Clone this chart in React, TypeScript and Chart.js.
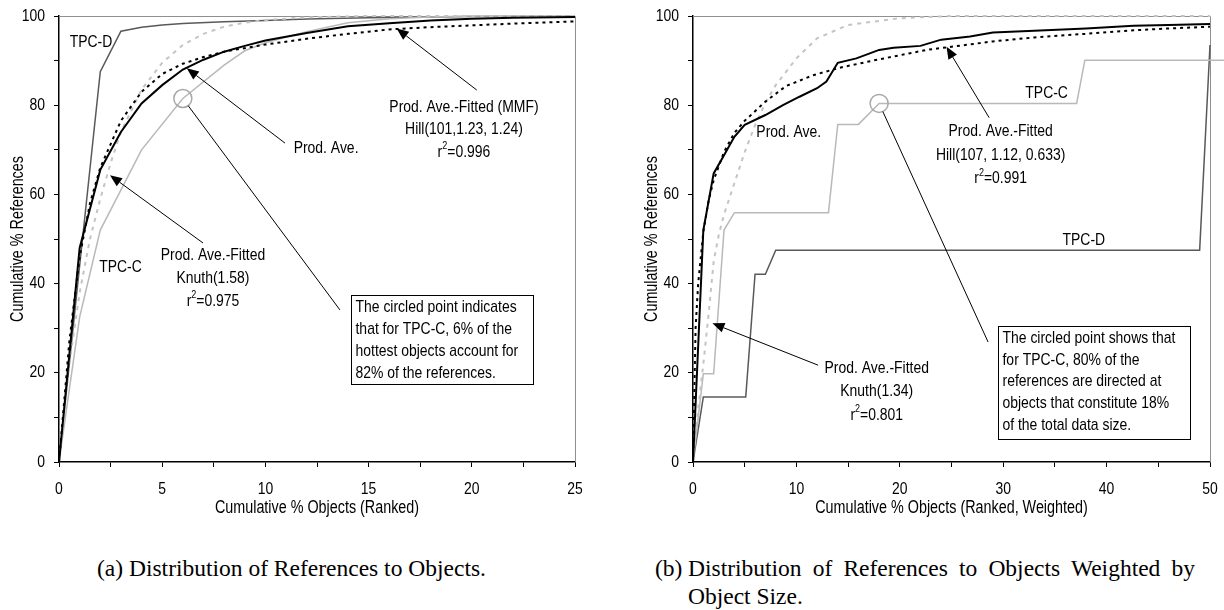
import React, { useEffect, useRef } from "react";
import { Chart, registerables } from "chart.js";

Chart.register(...registerables);

// Narrow sans text is drawn with Liberation Sans squeezed horizontally.
const SANS = '"Liberation Sans", Arial, Helvetica, sans-serif';
const NARROW = 0.82;
const SERIF = '"Liberation Serif", "Times New Roman", Times, serif';

// ---------- shared axis ticks ----------
const yTickMarks = [0, 10, 20, 30, 40, 50, 60, 70, 80, 90, 100];
const yTickLabels = [0, 20, 40, 60, 80, 100];

// ---------- panel (a): references vs. ranked objects ----------
const aTickMarks = [0, 2.5, 5, 7.5, 10, 12.5, 15, 17.5, 20, 22.5, 25];
const aTickLabels = [0, 5, 10, 15, 20, 25];

const aProdAveX = [0, 1, 2, 3, 4, 5, 6, 7, 8, 9, 10, 12, 14, 16, 18, 20, 22, 25];
const aProdAveY = [0, 48, 65.5, 74, 80.4, 84.5, 88, 90.2, 92, 93.3, 94.5, 96.2, 97.7, 98.4, 99, 99.4, 99.6, 99.8];

const aHillX = [0, 0.5, 1, 1.5, 2, 3, 4, 5, 6, 7, 8, 10, 12, 14, 16, 18, 20, 22, 25];
const aHillY = [0, 27, 46, 58, 66, 76.5, 83, 87, 89.3, 90.8, 92, 93.6, 94.9, 96, 97, 97.5, 97.9, 98.3, 98.8];

const aKnuthX = [0, 0.5, 1, 1.5, 2, 2.5, 3, 4, 5, 6, 7, 8, 9, 10, 12, 15, 20, 25];
const aKnuthY = [0, 22, 38, 50, 59, 67, 74, 83.5, 89.5, 93.5, 96, 97.6, 98.5, 99.1, 99.7, 100, 100, 100];

const aTpcCX = [0, 1, 2, 4, 6, 8, 9, 10, 12, 14, 16, 18, 20, 25];
const aTpcCY = [0, 32.5, 52, 70, 81.5, 89, 92.2, 94, 96.5, 98.5, 99.4, 99.8, 100, 100];

const aTpcDX = [0, 1, 2, 3, 4, 5, 6, 8, 10, 12, 15, 20, 25];
const aTpcDY = [0, 44, 87.5, 96.6, 97.5, 98, 98.3, 98.7, 99, 99.3, 99.6, 99.9, 100];

// ---------- panel (b): references vs. size-weighted ranked objects ----------
const bTickMarks = [0, 5, 10, 15, 20, 25, 30, 35, 40, 45, 50];
const bTickLabels = [0, 10, 20, 30, 40, 50];

const bProdAveX = [0, 1, 2, 3, 4, 5, 7, 8.7, 10.3, 12, 12.9, 14, 15.8, 18, 19.4, 22, 24, 26.8, 29, 33, 38, 42.6, 46, 50, 51.5];
const bProdAveY = [0, 52, 64.7, 68.8, 72.9, 75.6, 77.8, 80, 81.9, 83.8, 85.3, 89.5, 90.5, 92.4, 92.9, 93.3, 94.7, 95.4, 96.3, 96.7, 97.2, 97.8, 98, 98.2, 98.3];

const bHillX = [0, 0.25, 0.5, 1, 1.5, 2, 3, 4, 5, 7, 9, 11.6, 14, 17.4, 20, 22.6, 25, 29, 33, 38, 42.6, 46, 50];
const bHillY = [0, 30, 40, 51.6, 58.5, 63.2, 69.5, 73.8, 76.5, 80.8, 84.3, 86.7, 88.3, 90, 91.2, 92.4, 93.1, 94.3, 95.2, 96, 96.8, 97.2, 97.6];

const bKnuthX = [0, 0.5, 1, 1.5, 2, 2.5, 3, 4, 5, 6, 7, 8, 10, 12, 15, 20, 25, 50];
const bKnuthY = [0, 12, 22, 33, 45, 51, 55.5, 62.5, 69.5, 75.5, 80.5, 84.5, 90.5, 95, 98, 99.5, 100, 100];

const bTpcCX = [0, 1, 2, 3, 4, 13.1, 14, 16, 18, 37.1, 37.9, 52];
const bTpcCY = [0, 19.8, 19.8, 52, 55.9, 55.9, 75.7, 75.7, 80.4, 80.4, 90.1, 90.1];

const bTpcDX = [0, 1, 5.1, 6, 7, 8, 49, 50, 51.5];
const bTpcDY = [0, 14.6, 14.6, 42.1, 42.1, 47.5, 47.5, 93.5, 94.5];

// ---------- styles ----------
type Series = {
  label: string;
  x: number[];
  y: number[];
  color: string;
  width: number;
  dash?: number[];
  overflow?: number;
};

type Note =
  | { kind: "text"; x: number; y: number; lines: string[]; step?: number }
  | { kind: "arrow"; from: [number, number]; to: [number, number] }
  | { kind: "ring"; x: number; y: number; r: number; to: [number, number] }
  | { kind: "box"; x0: number; y0: number; x1: number; y1: number; lines: string[]; step: number };

const BLACK = "#000000";
const LIGHT = "#b9b9b9";
const DARK = "#595959";

function seriesSet(
  prodX: number[], prodY: number[],
  hillX: number[], hillY: number[],
  knuthX: number[], knuthY: number[],
  cX: number[], cY: number[],
  dX: number[], dY: number[],
  overflow: number
): Series[] {
  return [
    { label: "Prod. Ave.", x: prodX, y: prodY, color: BLACK, width: 2, overflow },
    { label: "Prod. Ave.-Fitted (Hill)", x: hillX, y: hillY, color: BLACK, width: 2, dash: [3, 4] },
    { label: "Prod. Ave.-Fitted (Knuth)", x: knuthX, y: knuthY, color: "#c4c4c4", width: 2, dash: [4, 5] },
    { label: "TPC-C", x: cX, y: cY, color: LIGHT, width: 1.5, overflow },
    { label: "TPC-D", x: dX, y: dY, color: DARK, width: 1.5, overflow },
  ];
}

const aSeries = seriesSet(aProdAveX, aProdAveY, aHillX, aHillY, aKnuthX, aKnuthY, aTpcCX, aTpcCY, aTpcDX, aTpcDY, 0);
const bSeries = seriesSet(bProdAveX, bProdAveY, bHillX, bHillY, bKnuthX, bKnuthY, bTpcCX, bTpcCY, bTpcDX, bTpcDY, 14);

const aNotes: Note[] = [
  { kind: "text", x: 1.55, y: 94.2, lines: ["TPC-D"] },
  { kind: "text", x: 2.98, y: 43.7, lines: ["TPC-C"] },
  { kind: "text", x: 12.94, y: 70.4, lines: ["Prod. Ave."] },
  { kind: "arrow", from: [10.95, 71.5], to: [6.19, 88.3] },
  { kind: "text", x: 7.46, y: 46.4, lines: ["Prod. Ave.-Fitted", "Knuth(1.58)", "r²=0.975"], step: 23 },
  { kind: "arrow", from: [6.98, 49.1], to: [2.47, 64.3] },
  { kind: "text", x: 19.62, y: 79.6, lines: ["Prod. Ave.-Fitted (MMF)", "Hill(101,1.23, 1.24)", "r²=0.996"], step: 22.5 },
  { kind: "arrow", from: [20.24, 83.4], to: [16.36, 97.2] },
  { kind: "ring", x: 6, y: 81.5, r: 9, to: [13.61, 34.1] },
  {
    kind: "box", x0: 14.13, y0: 37.4, x1: 22.95, y1: 17.4, step: 22,
    lines: ["The circled point indicates", "that for TPC-C, 6% of the", "hottest objects account for", "82% of the references."],
  },
];

const bNotes: Note[] = [
  { kind: "text", x: 9.26, y: 74.0, lines: ["Prod. Ave."] },
  { kind: "text", x: 34.2, y: 82.7, lines: ["TPC-C"] },
  { kind: "text", x: 37.8, y: 49.8, lines: ["TPC-D"] },
  { kind: "text", x: 29.75, y: 74.1, lines: ["Prod. Ave.-Fitted", "Hill(107, 1.12, 0.633)", "r²=0.991"], step: 23.5 },
  { kind: "arrow", from: [28.64, 77.2], to: [24.52, 93.1] },
  { kind: "text", x: 17.77, y: 21.0, lines: ["Prod. Ave.-Fitted", "Knuth(1.34)", "r²=0.801"], step: 23.3 },
  { kind: "arrow", from: [12.1, 21.7], to: [1.88, 31.1] },
  { kind: "ring", x: 18, y: 80.4, r: 9, to: [28.54, 26.9] },
  {
    kind: "box", x0: 29.45, y0: 30.5, x1: 48.06, y1: 5.1, step: 21.6,
    lines: ["The circled point shows that", "for TPC-C, 80% of the", "references are directed at", "objects that constitute 18%", "of the total data size."],
  },
];

// ---------- drawing helpers ----------
const NOTE_SIZE = 17;
const TICK_SIZE = 17;
const TITLE_SIZE = 17.5;

function narrowWidth(ctx: CanvasRenderingContext2D, text: string, size: number) {
  ctx.font = `${size}px ${SANS}`;
  return ctx.measureText(text).width * NARROW;
}

// Draws condensed text with its left edge at x, vertically centred on y.
function narrowText(ctx: CanvasRenderingContext2D, text: string, x: number, y: number, size: number) {
  ctx.save();
  ctx.font = `${size}px ${SANS}`;
  ctx.textAlign = "left";
  ctx.textBaseline = "middle";
  ctx.fillStyle = "#000";
  ctx.translate(x, y);
  ctx.scale(NARROW, 1);
  ctx.fillText(text, 0, 0);
  ctx.restore();
}

function drawRichLine(ctx: CanvasRenderingContext2D, text: string, x: number, y: number, align: "center" | "left" | "right", size = NOTE_SIZE) {
  const smallSize = Math.round(size * 0.62);
  const parts: [string, boolean][] = text.startsWith("r²")
    ? [["r", false], ["2", true], [text.slice(2), false]]
    : [[text, false]];
  const widths = parts.map(([t, sup]) => narrowWidth(ctx, t, sup ? smallSize : size));
  const total = widths.reduce((s, w) => s + w, 0);
  let cx = align === "center" ? x - total / 2 : align === "right" ? x - total : x;
  parts.forEach(([t, sup], i) => {
    narrowText(ctx, t, cx, sup ? y - 6 : y, sup ? smallSize : size);
    cx += widths[i];
  });
}

function drawArrow(ctx: CanvasRenderingContext2D, x1: number, y1: number, x2: number, y2: number) {
  const ang = Math.atan2(y2 - y1, x2 - x1);
  const len = 12;
  const half = 5;
  const bx = x2 - len * Math.cos(ang);
  const by = y2 - len * Math.sin(ang);
  ctx.strokeStyle = "#000";
  ctx.lineWidth = 1;
  ctx.beginPath();
  ctx.moveTo(x1, y1);
  ctx.lineTo(bx, by);
  ctx.stroke();
  ctx.fillStyle = "#000";
  ctx.beginPath();
  ctx.moveTo(x2, y2);
  ctx.lineTo(bx + half * Math.sin(ang), by - half * Math.cos(ang));
  ctx.lineTo(bx - half * Math.sin(ang), by + half * Math.cos(ang));
  ctx.closePath();
  ctx.fill();
}

type PanelProps = {
  series: Series[];
  notes: Note[];
  xMax: number;
  xTickMarks: number[];
  xTickLabels: number[];
  xTitle: string;
  yTitle: string;
  axisWidth: number;
  padRight: number;
  left: number;
};

const CANVAS_W = 612;
const CANVAS_H = 525;
const PLOT_TOP = 16;
const PLOT_BOTTOM = 462;

function Panel(props: PanelProps) {
  const ref = useRef<HTMLCanvasElement | null>(null);

  useEffect(() => {
    const canvas = ref.current;
    if (!canvas) return;
    const { series, notes, xMax, xTickMarks, xTickLabels, xTitle, yTitle, axisWidth, padRight } = props;

    const frame = {
      id: "frame",
      beforeDatasetsDraw(chart: any) {
        const { ctx, chartArea: a } = chart;
        ctx.save();
        ctx.strokeStyle = "#8f8f8f";
        ctx.lineWidth = 1;
        ctx.beginPath();
        ctx.moveTo(a.left, a.top + 0.5);
        ctx.lineTo(a.right + 0.5, a.top + 0.5);
        ctx.lineTo(a.right + 0.5, a.bottom);
        ctx.stroke();
        ctx.restore();
      },
      afterDraw(chart: any) {
        const { ctx, chartArea: a } = chart;
        const sx = chart.scales.x;
        const sy = chart.scales.y;
        ctx.save();
        // tick labels
        xTickLabels.forEach((v) => drawRichLine(ctx, String(v), sx.getPixelForValue(v), a.bottom + 27, "center", TICK_SIZE));
        yTickLabels.forEach((v) => drawRichLine(ctx, String(v), a.left - 14, sy.getPixelForValue(v), "right", TICK_SIZE));
        // axis titles
        drawRichLine(ctx, xTitle, (a.left + a.right) / 2, a.bottom + 46, "center", TITLE_SIZE);
        ctx.translate(a.left - 41, (a.top + a.bottom) / 2);
        ctx.rotate(-Math.PI / 2);
        drawRichLine(ctx, yTitle, 0, 0, "center", TITLE_SIZE);
        ctx.restore();
      },
    };

    const annotate = {
      id: "annotate",
      afterDatasetsDraw(chart: any) {
        const { ctx } = chart;
        const sx = chart.scales.x;
        const sy = chart.scales.y;
        const px = (v: number) => sx.getPixelForValue(v);
        const py = (v: number) => sy.getPixelForValue(v);
        ctx.save();
        notes.forEach((n) => {
          if (n.kind === "text") {
            const step = n.step ?? 22;
            n.lines.forEach((line, i) => drawRichLine(ctx, line, px(n.x), py(n.y) + i * step, "center"));
          } else if (n.kind === "arrow") {
            drawArrow(ctx, px(n.from[0]), py(n.from[1]), px(n.to[0]), py(n.to[1]));
          } else if (n.kind === "ring") {
            const cx = px(n.x);
            const cy = py(n.y);
            ctx.strokeStyle = "#a8a8a8";
            ctx.lineWidth = 1.5;
            ctx.beginPath();
            ctx.arc(cx, cy, n.r, 0, Math.PI * 2);
            ctx.stroke();
            const tx = px(n.to[0]);
            const ty = py(n.to[1]);
            const ang = Math.atan2(ty - cy, tx - cx);
            ctx.strokeStyle = "#000";
            ctx.lineWidth = 1;
            ctx.beginPath();
            ctx.moveTo(cx + n.r * Math.cos(ang), cy + n.r * Math.sin(ang));
            ctx.lineTo(tx, ty);
            ctx.stroke();
          } else if (n.kind === "box") {
            const x0 = Math.round(px(n.x0)) + 0.5;
            const y0 = Math.round(py(n.y0)) + 0.5;
            const x1 = Math.round(px(n.x1)) + 0.5;
            const y1 = Math.round(py(n.y1)) + 0.5;
            ctx.fillStyle = "#fff";
            ctx.fillRect(x0, y0, x1 - x0, y1 - y0);
            ctx.strokeStyle = "#000";
            ctx.lineWidth = 1;
            ctx.strokeRect(x0, y0, x1 - x0, y1 - y0);
            n.lines.forEach((line, i) => drawRichLine(ctx, line, x0 + 4, y0 + 12 + i * n.step, "left"));
          }
        });
        ctx.restore();
      },
    };

    const chart = new Chart(canvas, {
      type: "line",
      data: {
        datasets: series.map((s) => ({
          label: s.label,
          data: s.x.map((x, i) => ({ x, y: s.y[i] })),
          borderColor: s.color,
          borderWidth: s.width,
          borderDash: s.dash ?? [],
          pointRadius: 0,
          tension: 0,
          fill: false,
          clip: { left: 0, top: 2, right: s.overflow ?? 0, bottom: 0 } as any,
        })),
      },
      options: {
        responsive: false,
        animation: false,
        events: [],
        layout: { padding: { top: PLOT_TOP, right: padRight, left: 0, bottom: 0 } },
        plugins: { legend: { display: false }, tooltip: { enabled: false }, title: { display: false } },
        scales: {
          x: {
            type: "linear",
            min: 0,
            max: xMax,
            afterFit: (s: any) => {
              s.height = CANVAS_H - PLOT_BOTTOM;
            },
            afterBuildTicks: (s: any) => {
              s.ticks = xTickMarks.map((v) => ({ value: v }));
            },
            ticks: { display: false, autoSkip: false, maxRotation: 0 },
            grid: { drawOnChartArea: false, drawTicks: true, tickLength: 5, color: "#000", lineWidth: 1 },
            border: { display: true, color: "#000", width: 1.5 },
          },
          y: {
            type: "linear",
            min: 0,
            max: 100,
            afterFit: (s: any) => {
              s.width = axisWidth;
            },
            afterBuildTicks: (s: any) => {
              s.ticks = yTickMarks.map((v) => ({ value: v }));
            },
            ticks: { display: false, autoSkip: false },
            grid: { drawOnChartArea: false, drawTicks: true, tickLength: 5, color: "#000", lineWidth: 1 },
            border: { display: true, color: "#000", width: 1.5 },
          },
        },
      } as any,
      plugins: [frame, annotate],
    });

    return () => chart.destroy();
  }, []);

  return (
    <canvas
      ref={ref}
      width={CANVAS_W}
      height={CANVAS_H}
      style={{ position: "absolute", left: props.left, top: 0, width: CANVAS_W, height: CANVAS_H }}
    />
  );
}

export default function App() {
  const caption: React.CSSProperties = {
    position: "absolute",
    fontFamily: SERIF,
    fontSize: 23.5,
    lineHeight: "28px",
    color: "#000",
    whiteSpace: "nowrap",
  };
  return (
    <div style={{ position: "absolute", left: 0, top: 0, width: 1224, height: 610, background: "#fff", overflow: "hidden" }}>
      <Panel
        series={aSeries}
        notes={aNotes}
        xMax={25}
        xTickMarks={aTickMarks}
        xTickLabels={aTickLabels}
        xTitle="Cumulative % Objects (Ranked)"
        yTitle="Cumulative % References"
        axisWidth={59}
        padRight={37}
        left={0}
      />
      <Panel
        series={bSeries}
        notes={bNotes}
        xMax={50}
        xTickMarks={bTickMarks}
        xTickLabels={bTickLabels}
        xTitle="Cumulative % Objects (Ranked, Weighted)"
        yTitle="Cumulative % References"
        axisWidth={81}
        padRight={14}
        left={612}
      />
      <div style={{ ...caption, left: 97, top: 554 }}>(a) Distribution of References to Objects.</div>
      <div style={{ ...caption, left: 655, top: 554 }}>(b)</div>
      <div
        style={{
          ...caption,
          left: 688,
          top: 554,
          width: 507,
          whiteSpace: "normal",
          textAlign: "justify",
          textAlignLast: "left",
        }}
      >
        Distribution of References to Objects Weighted by Object Size.
      </div>
    </div>
  );
}
